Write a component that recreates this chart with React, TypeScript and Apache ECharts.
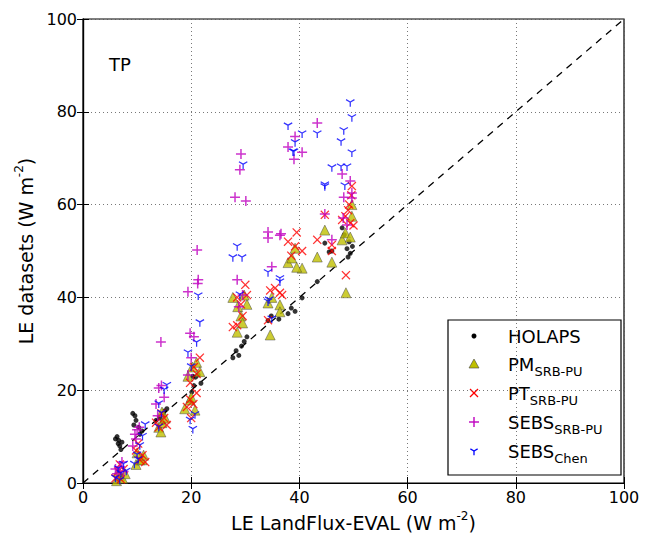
import React, { useEffect, useRef } from "react";
import * as echarts from "echarts";

const xTicks = [0, 20, 40, 60, 80, 100];
const yTicks = [0, 20, 40, 60, 80, 100];
const seriesNames = ["HOLAPS", "PM_SRB-PU", "PT_SRB-PU", "SEBS_SRB-PU", "SEBS_Chen"];
const panelLabel = "TP";

const holaps: number[][] = [
  [6.0, 9.5], [6.3, 10.0], [6.5, 8.5], [6.8, 8.0], [7.0, 7.2], [7.2, 8.8], [6.6, 9.2],
  [9.2, 15.0], [9.6, 14.5], [9.8, 13.5], [9.4, 12.5], [10.3, 12.0], [10.9, 11.2], [10.5, 10.5],
  [13.5, 13.5], [14.2, 14.0], [15.0, 15.5], [15.5, 16.0], [14.8, 13.0],
  [20.1, 19.6], [20.5, 21.0], [20.8, 22.8], [21.3, 23.3], [21.8, 21.5], [20.3, 23.0],
  [27.7, 27.0], [28.3, 28.5], [29.3, 29.5], [29.8, 30.5], [30.3, 31.5], [28.8, 27.5],
  [34.2, 35.0], [34.8, 36.0], [36.2, 35.3], [37.9, 36.5], [38.5, 37.7], [39.2, 37.0], [40.5, 39.9],
  [43.3, 43.4], [44.7, 51.7], [46.0, 50.0], [45.5, 49.8],
  [47.9, 55.0], [48.3, 53.5], [48.8, 50.5], [49.2, 52.0], [49.4, 49.5], [49.8, 51.0], [49.0, 48.7],
];

const pm: number[][] = [
  [6.2, 0.5], [6.8, 1.5], [7.3, 1.0], [7.8, 2.0], [6.5, 2.5],
  [9.8, 4.0], [10.5, 5.0], [10.9, 5.0], [11.2, 6.0], [10.0, 6.5],
  [14.0, 12.0], [14.6, 13.0], [14.6, 15.3], [15.2, 14.0], [14.4, 11.0],
  [19.4, 23.0], [20.2, 25.0], [21.0, 26.0], [21.6, 24.0], [18.8, 16.0], [19.8, 17.9], [20.7, 15.7], [20.0, 18.5],
  [27.7, 40.0], [28.5, 32.5], [28.6, 38.0], [29.2, 36.0], [29.5, 34.5], [30.3, 38.5], [29.8, 40.5],
  [34.6, 31.9], [34.2, 38.8], [34.9, 40.0], [36.4, 38.4], [36.4, 36.9],
  [37.9, 47.5], [38.6, 48.5], [39.2, 50.6], [40.5, 46.3], [39.5, 46.5],
  [43.3, 48.7], [44.7, 54.5], [46.0, 47.6],
  [47.9, 52.4], [48.5, 53.9], [49.4, 53.0], [48.6, 41.0], [49.7, 57.5], [49.7, 60.0],
];

const pt: number[][] = [
  [6.0, 1.0], [6.5, 2.5], [7.0, 0.8], [7.5, 3.0], [6.8, 4.0],
  [9.8, 7.0], [10.5, 5.0], [11.0, 6.0], [11.5, 4.5], [10.2, 8.5],
  [13.5, 13.0], [14.0, 12.0], [14.5, 15.0], [15.0, 14.0], [15.5, 12.5],
  [19.8, 21.6], [20.5, 25.0], [21.0, 23.5], [21.6, 27.0], [19.2, 16.4], [19.8, 18.0], [20.4, 17.0], [21.0, 19.4], [20.0, 14.0],
  [27.7, 33.6], [28.5, 34.0], [28.5, 40.0], [29.2, 38.5], [30.0, 42.7], [29.5, 36.0], [30.3, 40.5],
  [34.2, 35.1], [34.6, 41.5], [35.5, 42.0], [36.4, 41.0], [36.8, 40.5],
  [37.9, 52.0], [38.5, 49.0], [39.2, 51.0], [39.5, 54.0], [40.5, 50.0],
  [43.3, 52.4], [44.7, 57.8], [46.0, 51.3], [46.0, 50.0],
  [47.9, 56.7], [48.5, 57.5], [49.0, 58.8], [49.4, 56.0], [48.6, 44.8], [49.7, 64.0], [49.6, 62.0], [49.2, 60.0], [50.0, 55.5],
];

const sebsSrb: number[][] = [
  [6.3, 2.0], [6.8, 3.5], [7.2, 4.5], [6.0, 3.0], [7.5, 2.5],
  [9.2, 8.0], [9.6, 10.5], [10.0, 11.5], [10.4, 12.0], [9.8, 9.5],
  [13.5, 17.0], [14.0, 20.5], [14.5, 21.0], [15.0, 18.5], [14.4, 30.4], [13.8, 14.5],
  [19.4, 23.3], [19.8, 32.3], [19.4, 41.2], [21.3, 43.8], [21.1, 50.2], [20.5, 31.5], [21.2, 43.0], [20.0, 27.0],
  [28.1, 61.6], [29.0, 67.5], [29.2, 70.9], [30.1, 60.8], [28.5, 43.8], [29.5, 40.5], [28.8, 38.0],
  [34.2, 54.1], [34.2, 52.8], [36.4, 53.4], [34.9, 46.6], [36.6, 53.7],
  [37.9, 72.4], [39.2, 74.7], [40.5, 71.3], [39.0, 69.8], [43.3, 77.6],
  [44.7, 58.0], [46.0, 52.4],
  [47.9, 66.6], [49.4, 65.1], [49.7, 62.5], [48.2, 61.6], [49.7, 61.4], [48.1, 57.1], [48.8, 55.6],
];

const sebsChen: number[][] = [
  [6.0, 1.0], [6.5, 3.0], [7.0, 2.0], [7.5, 4.0], [8.0, 2.5], [6.8, 0.5],
  [9.5, 4.0], [10.0, 6.0], [10.5, 8.0], [11.0, 10.0], [10.2, 5.0], [11.5, 12.5],
  [14.0, 12.0], [14.5, 15.0], [15.0, 20.0], [15.5, 21.0], [14.0, 17.0],
  [19.4, 28.0], [21.0, 30.2], [21.6, 34.5], [21.3, 40.3], [19.8, 13.5], [20.3, 11.5], [20.7, 14.7], [20.0, 25.0],
  [28.5, 50.9], [27.7, 48.5], [29.4, 48.5], [29.6, 68.5], [29.0, 40.5],
  [34.2, 45.3], [36.4, 44.0], [34.2, 39.0], [34.9, 35.3], [34.4, 39.4], [36.4, 43.3],
  [37.9, 76.9], [40.5, 75.2], [43.3, 75.2], [39.2, 73.3], [39.0, 71.3], [38.8, 71.3],
  [44.7, 64.2], [44.7, 63.8], [46.0, 67.9],
  [48.2, 75.9], [47.7, 73.5], [49.4, 81.9], [49.7, 78.7], [49.7, 71.1], [47.7, 68.1], [48.8, 68.1], [48.4, 64.0],
];

const oneToOne: number[][] = [[0, 0], [100, 100]];

const PLUS = "path://M4.25,0H5.75V4.25H10V5.75H5.75V10H4.25V5.75H0V4.25H4.25Z";
const XMARK = "path://M0,1L1,0L5,4L9,0L10,1L6,5L10,9L9,10L5,6L1,10L0,9L4,5Z";
const YMARK =
  "path://M4.35,4.7L4.35,10L5.65,10L5.65,4.7Z M5.61,4.6L0.97,1.93L0.32,3.06L4.96,5.73Z M5.04,5.73L9.68,3.06L9.03,1.93L4.39,4.6Z";

const FONT = "DejaVu Sans";

export default function App() {
  const ref = useRef<HTMLDivElement>(null);
  useEffect(() => {
    if (!ref.current) return;
    const chart = echarts.init(ref.current, null, { renderer: "svg" });
    const axisCommon = {
      type: "value" as const,
      min: xTicks[0],
      max: xTicks[xTicks.length - 1],
      interval: 20,
    };
    const splitLine = { show: true, lineStyle: { color: "#555", type: [1, 3], width: 0.8 } };
    const rich = {
      a: { fontSize: 19, fontFamily: FONT, color: "#000", lineHeight: 26 },
      b: { fontSize: 12, fontFamily: FONT, color: "#000", lineHeight: 12, verticalAlign: "top" as const },
    };
    const legRich = {
      a: { fontSize: 18, fontFamily: FONT, fill: "#000", lineHeight: 28 },
      b: { fontSize: 13, fontFamily: FONT, fill: "#000", lineHeight: 13, verticalAlign: "bottom" as const },
    };
    const lx = 474;
    const tx = 508;
    const rows = [336, 364, 393, 422, 451];
    const legendLabels = [
      "{a|HOLAPS}",
      "{a|PM}{b|SRB-PU}",
      "{a|PT}{b|SRB-PU}",
      "{a|SEBS}{b|SRB-PU}",
      "{a|SEBS}{b|Chen}",
    ];
    const s = 4;
    const yArm = 4.2;
    const axisLine = { show: true, lineStyle: { color: "#000", width: 1.2 } };
    const axisTick = { show: true, inside: true, length: 6, lineStyle: { color: "#000" } };
    const axisLabel = { fontSize: 16, color: "#000", fontFamily: FONT, margin: 6 };
    const option: any = {
      animation: false,
      backgroundColor: "#fff",
      textStyle: { fontFamily: FONT },
      grid: { left: 83, right: 26, top: 19, bottom: 55, show: true, borderColor: "#000", borderWidth: 1.2, backgroundColor: "transparent" },
      xAxis: [
        {
          ...axisCommon,
          position: "bottom",
          name: "{a|LE LandFlux-EVAL (W m}{b|-2}{a|)}",
          nameLocation: "middle",
          nameGap: 27,
          nameTextStyle: { rich },
          axisLine,
          axisTick,
          axisLabel,
          splitLine,
        },
        {
          ...axisCommon,
          position: "top",
          axisLine,
          axisTick,
          axisLabel: { show: false },
          splitLine: { show: false },
        },
      ],
      yAxis: [
        {
          ...axisCommon,
          min: yTicks[0],
          max: yTicks[yTicks.length - 1],
          position: "left",
          name: "{a|LE datasets (W m}{b|-2}{a|)}",
          nameLocation: "middle",
          nameGap: 38,
          nameTextStyle: { rich },
          axisLine,
          axisTick,
          axisLabel,
          splitLine,
        },
        {
          ...axisCommon,
          min: yTicks[0],
          max: yTicks[yTicks.length - 1],
          position: "right",
          axisLine,
          axisTick,
          axisLabel: { show: false },
          splitLine: { show: false },
        },
      ],
      series: [
        {
          type: "line",
          data: oneToOne,
          symbol: "none",
          silent: true,
          z: 1,
          lineStyle: { color: "#000", type: [7, 6], width: 1.3 },
        },
        {
          name: seriesNames[0],
          type: "scatter",
          data: holaps,
          symbol: "circle",
          symbolSize: 5,
          itemStyle: { color: "#000" },
          z: 2,
        },
        {
          name: seriesNames[1],
          type: "scatter",
          data: pm,
          symbol: "triangle",
          symbolSize: 10,
          itemStyle: { color: "#bfbf00", borderColor: "#444", borderWidth: 0.6 },
          z: 3,
        },
        {
          name: seriesNames[2],
          type: "scatter",
          data: pt,
          symbol: XMARK,
          symbolSize: 9,
          itemStyle: { color: "#ff0000" },
          z: 4,
        },
        {
          name: seriesNames[3],
          type: "scatter",
          data: sebsSrb,
          symbol: PLUS,
          symbolSize: 10,
          itemStyle: { color: "#bf00bf" },
          z: 5,
        },
        {
          name: seriesNames[4],
          type: "scatter",
          data: sebsChen,
          symbol: YMARK,
          symbolSize: 9,
          symbolKeepAspect: true,
          itemStyle: { color: "#0000ff" },
          z: 6,
        },
      ],
      graphic: [
        {
          type: "text",
          left: 109,
          top: 55,
          style: { text: panelLabel, fontSize: 18, fontFamily: FONT, fill: "#000" },
        },
        {
          type: "group",
          z: 100,
          children: [
            {
              type: "rect",
              shape: { x: 448, y: 320, width: 173, height: 155 },
              style: { fill: "#fff", stroke: "#000", lineWidth: 1.2 },
            },
            { type: "circle", shape: { cx: lx, cy: rows[0], r: 2.5 }, style: { fill: "#000" } },
            {
              type: "polygon",
              shape: { points: [[lx - 5, rows[1] + 4], [lx + 5, rows[1] + 4], [lx, rows[1] - 5]] },
              style: { fill: "#bfbf00", stroke: "#444", lineWidth: 0.6 },
            },
            { type: "line", shape: { x1: lx - s, y1: rows[2] - s, x2: lx + s, y2: rows[2] + s }, style: { stroke: "#ff0000", lineWidth: 1.3 } },
            { type: "line", shape: { x1: lx - s, y1: rows[2] + s, x2: lx + s, y2: rows[2] - s }, style: { stroke: "#ff0000", lineWidth: 1.3 } },
            { type: "line", shape: { x1: lx - 5, y1: rows[3], x2: lx + 5, y2: rows[3] }, style: { stroke: "#bf00bf", lineWidth: 1.4 } },
            { type: "line", shape: { x1: lx, y1: rows[3] - 5, x2: lx, y2: rows[3] + 5 }, style: { stroke: "#bf00bf", lineWidth: 1.4 } },
            { type: "line", shape: { x1: lx, y1: rows[4], x2: lx, y2: rows[4] + yArm }, style: { stroke: "#0000ff", lineWidth: 1.3 } },
            { type: "line", shape: { x1: lx, y1: rows[4], x2: lx - yArm * 0.866, y2: rows[4] - yArm * 0.5 }, style: { stroke: "#0000ff", lineWidth: 1.3 } },
            { type: "line", shape: { x1: lx, y1: rows[4], x2: lx + yArm * 0.866, y2: rows[4] - yArm * 0.5 }, style: { stroke: "#0000ff", lineWidth: 1.3 } },
            ...legendLabels.map((t, i) => ({
              type: "text",
              x: tx,
              y: rows[i],
              style: { text: t, rich: legRich, verticalAlign: "middle", align: "left" },
            })),
          ],
        },
      ],
    };
    chart.setOption(option);
    return () => chart.dispose();
  }, []);
  return <div ref={ref} style={{ position: "absolute", left: 0, top: 0, width: 650, height: 538 }} />;
}
